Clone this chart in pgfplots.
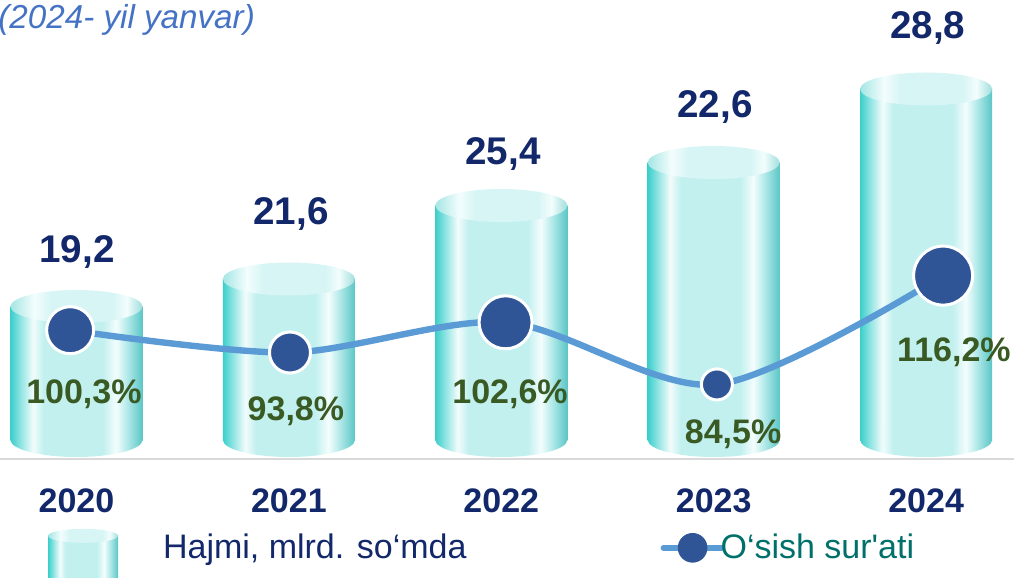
\documentclass[border=0pt]{standalone}
\usepackage{pgfplots}
\pgfplotsset{compat=1.18}
\usepackage{fontspec}
\setmainfont{Liberation Sans}[Ligatures=TeXOff]
\usetikzlibrary{shapes.geometric}

\definecolor{navy}{HTML}{12286A}
\definecolor{pctgreen}{HTML}{3A5A24}
\definecolor{linec}{HTML}{5B9BD5}
\definecolor{mkblue}{HTML}{2F5597}
\definecolor{tealtxt}{HTML}{00706A}
\definecolor{titleblue}{HTML}{4472C4}
\definecolor{baseline}{HTML}{D9D9D9}
% cylinder side, left to right
\definecolor{cA}{HTML}{3CCFCB}
\definecolor{cB}{HTML}{93E5E3}
\definecolor{cC}{HTML}{F2FCFC}
\definecolor{cD}{HTML}{C2F0EF}
\definecolor{cE}{HTML}{F4FDFD}
\definecolor{cF}{HTML}{B5EAEA}
\definecolor{cG}{HTML}{5BC6C6}
% cylinder lid
\definecolor{tA}{HTML}{A4E6E4}
\definecolor{tB}{HTML}{F3FDFD}
\definecolor{tC}{HTML}{D8F5F5}
\definecolor{tD}{HTML}{9EDEDC}

% path bbox maps to 25bp..75bp
\pgfdeclarehorizontalshading{cylbody}{100bp}{color(0bp)=(cA); color(25bp)=(cA);
  color(29bp)=(cB); color(33.5bp)=(cC); color(37.5bp)=(cD); color(60bp)=(cD);
  color(65bp)=(cE); color(69bp)=(cF); color(75bp)=(cG); color(100bp)=(cG)}
\pgfdeclarehorizontalshading{cyltop}{100bp}{color(0bp)=(tA); color(25bp)=(tA);
  color(34bp)=(tB); color(40bp)=(tC); color(64bp)=(tC); color(69bp)=(tB);
  color(75bp)=(tD); color(100bp)=(tD)}

\newcommand\valfont{\fontsize{19.3}{22}\selectfont\bfseries}
\newcommand\yearfont{\fontsize{17}{20}\selectfont\bfseries}
\newcommand\pctfont{\fontsize{17}{20}\selectfont\bfseries}
\newcommand\legfont{\fontsize{17}{20}\selectfont}

% value labels (positions as drawn)
\pgfplotstableread{
x     y    lab
0.002 188  19,2
1.01  226  21,6
2.008 286  25,4
3.006 333  22,6
4.008 412  28,8
}\vals

% growth labels
\pgfplotstableread{
x     y   lab
0.035 46  100,3\%
1.033 29  93,8\%
2.041 46  102,6\%
3.091 6   84,5\%
4.131 88  116,2\%
}\pcts

% growth rate, %, with marker radius (pt)
\pgfplotstableread{
x      p      r
-0.03  100.3  11.75
1.005  93.8   10.25
2.02   102.6  13.25
3.015  84.5   7.75
4.08   116.2  14.75
}\growth

\begin{document}
\begin{tikzpicture}
\begin{axis}[
  name=ax,
  scale only axis,
  width=507pt, height=229.5pt,
  xmin=-0.3602, xmax=4.4138,
  ymin=-19, ymax=440,
  clip=false,
  axis y line=none,
  axis x line*=bottom,
  x axis line style={-, draw=baseline, line width=1pt},
  xtick={0,1,2,3,4},
  xticklabels={2020,2021,2022,2023,2024},
  major tick length=0pt,
  xticklabel style={font=\yearfont, text=navy, anchor=north, inner sep=0pt, yshift=-14.5pt},
]
% cylinder bottoms
\addplot[only marks, mark=none, nodes near coords={\relax},
  nodes near coords style={ellipse, anchor=center, inner sep=0pt,
    minimum width=66pt, minimum height=17pt, shade, shading=cylbody}]
  coordinates {(0,0) (1,0) (2,0) (3,0) (4,0)};
% cylinder bodies (heights as drawn)
\addplot[ybar, bar width=66pt, bar shift=0pt, draw=none, shade, shading=cylbody] coordinates {(0,133.5)};
\addplot[ybar, bar width=66pt, bar shift=0pt, draw=none, shade, shading=cylbody] coordinates {(1,161)};
\addplot[ybar, bar width=66pt, bar shift=0pt, draw=none, shade, shading=cylbody] coordinates {(2,234.5)};
\addplot[ybar, bar width=66pt, bar shift=0pt, draw=none, shade, shading=cylbody] coordinates {(3,277.5)};
\addplot[ybar, bar width=66pt, bar shift=0pt, draw=none, shade, shading=cylbody] coordinates {(4,351)};
% lids
\addplot[only marks, mark=none, nodes near coords={\relax},
  nodes near coords style={ellipse, anchor=center, inner sep=0pt,
    minimum width=66pt, minimum height=16.5pt, shade, shading=cyltop}]
  coordinates {(0,133.5) (1,161) (2,234.5) (3,277.5) (4,351)};
% labels
\addplot[only marks, mark=none, nodes near coords, point meta=explicit symbolic,
  nodes near coords style={anchor=center, inner sep=0pt, font=\valfont, text=navy}]
  table[x=x, y=y, meta=lab] {\vals};
\addplot[only marks, mark=none, nodes near coords, point meta=explicit symbolic,
  nodes near coords style={anchor=center, inner sep=0pt, font=\pctfont, text=pctgreen}]
  table[x=x, y=y, meta=lab] {\pcts};
\node[anchor=north west, inner sep=0pt, xshift=-1pt, yshift=-2pt,
  font=\fontsize{16.6}{19}\selectfont\itshape, text=titleblue]
  at (rel axis cs:0,1) {(2024- yil yanvar)};
\end{axis}

\begin{axis}[
  scale only axis,
  width=507pt, height=229.5pt,
  xmin=-0.3602, xmax=4.4138,
  ymin=62.78, ymax=196.48,
  clip=false,
  hide axis,
  legend columns=2,
  legend style={at={(axis description cs:0.047,-0.212)}, anchor=west,
    draw=none, fill=none, font=\legfont, inner sep=0pt,
    nodes={inner sep=0pt},
    /tikz/every odd column/.append style={column sep=22.5pt},
    /tikz/every even column/.append style={column sep=98.5pt}},
]
\addlegendimage{legend image code/.code={
  \shade[draw=none, shading=cylbody] (0pt,-18pt) rectangle (35pt,6pt);
  \shade[draw=none, shading=cyltop] (17.5pt,6pt) ellipse [x radius=17.5pt, y radius=3.5pt];}}
\addlegendentry[text=navy]{Hajmi, mlrd. so‘mda}
\addlegendimage{legend image code/.code={
  \path[draw=none, fill=none] (0pt,-7.2pt) rectangle (6pt,7.2pt);
  \draw[overlay, linec, line width=3pt, line cap=round] (0pt,0pt) -- (29pt,0pt);
  \fill[overlay, mkblue] (14.5pt,0pt) circle (7.2pt);}}
\addlegendentry[text=tealtxt]{O‘sish sur'ati}
\addplot[linec, line width=3.2pt, smooth, forget plot] table[x=x, y=p] {\growth};
\addplot[scatter, only marks, mark=*, forget plot,
  scatter/use mapped color={draw=white, fill=mkblue},
  mark options={line width=1.5pt},
  visualization depends on={\thisrow{r} \as \perpointmarksize},
  scatter/@pre marker code/.append style={/tikz/mark size=\perpointmarksize}]
  table[x=x, y=p] {\growth};
\end{axis}
\pgfresetboundingbox
\useasboundingbox ([yshift=-59pt]ax.south west) rectangle (ax.north east);
\end{tikzpicture}
\end{document}
